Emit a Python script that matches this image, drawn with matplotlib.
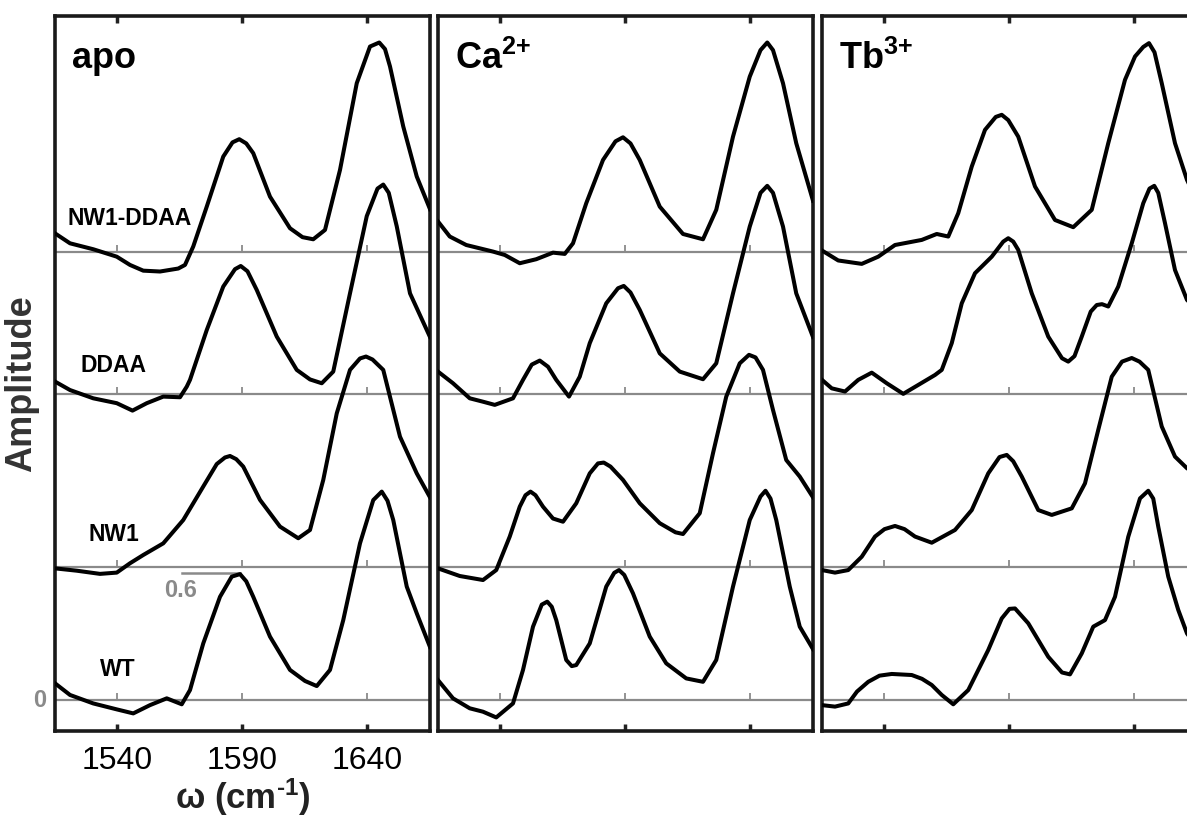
import matplotlib
matplotlib.use("Agg")
import matplotlib.pyplot as plt

plt.rcParams['font.family'] = ['Liberation Sans', 'DejaVu Sans']
plt.rcParams['mathtext.fontset'] = 'custom'
plt.rcParams['mathtext.rm'] = 'Liberation Sans:bold'
plt.rcParams['mathtext.default'] = 'rm'

# vertical offsets of the stacked traces (amplitude units)
offsets = {'WT': 0.0, 'NW1': 0.626, 'DDAA': 1.442, 'NW1-DDAA': 2.115}
trace_names = ['WT', 'NW1', 'DDAA', 'NW1-DDAA']
xticks = [1540, 1590, 1640]

# ---- apo ----
apo_ndd_x = [1515, 1521, 1530.3, 1539.7, 1545, 1550.3, 1557, 1564.3, 1567, 1570.3, 1575.7, 1582.3, 1586, 1588.7,
             1591.5, 1594.3, 1601, 1609, 1614, 1618.3, 1623, 1629, 1635.7, 1641, 1644.7, 1647, 1649, 1654.3, 1659.7, 1665]
apo_ndd_y = [0.086, 0.039, 0.011, -0.024, -0.063, -0.090, -0.094, -0.080, -0.063, 0.024, 0.212, 0.448, 0.515, 0.530,
             0.51, 0.464, 0.259, 0.110, 0.068, 0.058, 0.102, 0.385, 0.794, 0.967, 0.986, 0.955, 0.873, 0.590, 0.354, 0.20]
apo_ddaa_x = [1515, 1521, 1530.3, 1539.7, 1546, 1551.7, 1558.3, 1565, 1567.7, 1569, 1575.7, 1582.3, 1587, 1589.3,
              1592, 1595.7, 1603.7, 1611.7, 1617, 1621.7, 1626.3, 1633, 1639.7, 1644, 1646.3, 1648.5, 1651.7, 1657, 1665]
apo_ddaa_y = [0.060, 0.020, -0.019, -0.042, -0.077, -0.042, -0.011, -0.014, 0.036, 0.068, 0.303, 0.508, 0.59, 0.605,
              0.58, 0.492, 0.272, 0.115, 0.07, 0.052, 0.107, 0.476, 0.840, 0.97, 0.989, 0.95, 0.792, 0.476, 0.27]
apo_nw1_x = [1515, 1523.7, 1533, 1539.7, 1545, 1550.3, 1558.3, 1566.3, 1574.3, 1579.7, 1583, 1585, 1587.5, 1590.3,
             1597, 1605, 1612.3, 1617, 1622.3, 1627.7, 1633, 1637, 1639.4, 1642, 1646.3, 1653, 1659.7, 1665]
apo_nw1_y = [-0.005, -0.016, -0.031, -0.025, 0.019, 0.058, 0.113, 0.223, 0.381, 0.487, 0.518, 0.525, 0.51, 0.475,
             0.318, 0.192, 0.137, 0.176, 0.412, 0.726, 0.931, 0.985, 0.994, 0.98, 0.931, 0.616, 0.443, 0.33]
apo_wt_x = [1515, 1521, 1530.3, 1539.7, 1546.3, 1553, 1559.7, 1565.7, 1569, 1574.3, 1581, 1585.7, 1589, 1591.5,
            1594.3, 1601, 1609, 1615, 1619.7, 1625, 1630.3, 1637, 1642.3, 1645.7, 1648, 1650.3, 1655.7, 1659.7, 1665]
apo_wt_y = [0.079, 0.024, -0.016, -0.044, -0.063, -0.024, 0.008, -0.020, 0.047, 0.267, 0.487, 0.582, 0.594, 0.56,
            0.487, 0.299, 0.142, 0.09, 0.066, 0.142, 0.377, 0.739, 0.943, 0.983, 0.94, 0.849, 0.535, 0.409, 0.25]

# ---- Ca2+ ----
ca_ndd_x = [1515, 1519.7, 1526.3, 1537, 1541.7, 1547.7, 1554.3, 1561, 1565.7, 1569, 1574.3, 1581, 1586, 1589,
            1592, 1595.7, 1603.7, 1613, 1621, 1626.3, 1633, 1639.7, 1644, 1646.7, 1649, 1653, 1658.3, 1665]
ca_ndd_y = [0.142, 0.071, 0.031, 0.0, -0.016, -0.055, -0.036, -0.005, -0.011, 0.039, 0.228, 0.432, 0.52, 0.539,
            0.51, 0.432, 0.212, 0.083, 0.058, 0.197, 0.542, 0.825, 0.95, 0.986, 0.95, 0.794, 0.511, 0.24]
ca_ddaa_x = [1515, 1521, 1527.7, 1533, 1537.7, 1545, 1549, 1552.5, 1555.7, 1559, 1562.3, 1567.4, 1571.7, 1575.7,
             1582.3, 1587, 1589.3, 1592, 1595.7, 1603.7, 1611.7, 1621, 1626.3, 1633, 1639.7, 1644, 1646.7, 1649,
             1653, 1658.3, 1665]
ca_ddaa_y = [0.107, 0.052, -0.019, -0.035, -0.050, -0.019, 0.068, 0.14, 0.159, 0.13, 0.068, -0.011, 0.083, 0.241,
             0.429, 0.50, 0.511, 0.48, 0.398, 0.193, 0.107, 0.071, 0.146, 0.476, 0.791, 0.95, 0.983, 0.95,
             0.791, 0.476, 0.27]
ca_nw1_x = [1515, 1523.7, 1533, 1538.3, 1543.7, 1547.7, 1550, 1552, 1554, 1557, 1561, 1565, 1570.3, 1575.7,
            1579, 1581.3, 1584, 1589, 1595.7, 1603.7, 1610, 1613, 1619.7, 1625, 1630.3, 1635.7, 1639.4, 1642,
            1645, 1649, 1654.3, 1659.7, 1665]
ca_nw1_y = [-0.005, -0.041, -0.060, -0.013, 0.145, 0.286, 0.34, 0.357, 0.34, 0.286, 0.23, 0.215, 0.302, 0.443,
            0.49, 0.494, 0.475, 0.412, 0.302, 0.208, 0.165, 0.157, 0.255, 0.538, 0.805, 0.962, 1.002, 0.99,
            0.931, 0.742, 0.506, 0.428, 0.33]
ca_wt_x = [1515, 1521, 1527.7, 1533, 1538.3, 1545, 1549, 1553, 1556.5, 1558.7, 1560.5, 1562.3, 1566.3, 1568.5,
           1570.3, 1575.7, 1582.3, 1585.5, 1587.4, 1589.5, 1593, 1599.7, 1606.3, 1614.3, 1621, 1626.3, 1633,
           1639.7, 1644, 1646, 1648, 1650.3, 1655.7, 1659.7, 1665]
ca_wt_y = [0.094, 0.008, -0.039, -0.055, -0.082, -0.016, 0.142, 0.346, 0.45, 0.464, 0.44, 0.377, 0.189, 0.16,
           0.165, 0.267, 0.535, 0.60, 0.613, 0.59, 0.503, 0.299, 0.173, 0.102, 0.086, 0.189, 0.535,
           0.849, 0.96, 0.987, 0.95, 0.849, 0.535, 0.346, 0.24]

# ---- Tb3+ ----
tb_ndd_x = [1515, 1521.5, 1530.9, 1537.5, 1544.2, 1554.9, 1560.9, 1565.5, 1569.5, 1574.9, 1580.2, 1584.5, 1586.9,
            1589.5, 1593.5, 1600.2, 1608.2, 1615.5, 1622.9, 1629.5, 1636.2, 1640.2, 1643.5, 1645.8, 1648, 1650.9,
            1656.2, 1661, 1665]
tb_ndd_y = [0.005, -0.042, -0.058, -0.024, 0.031, 0.055, 0.083, 0.071, 0.181, 0.401, 0.574, 0.635, 0.645,
            0.62, 0.542, 0.307, 0.149, 0.115, 0.197, 0.511, 0.810, 0.920, 0.965, 0.983, 0.94, 0.794,
            0.511, 0.338, 0.24]
tb_ddaa_x = [1515, 1518.9, 1524.2, 1529.5, 1534.9, 1540.9, 1547.5, 1553.5, 1560.2, 1562.9, 1566.9, 1570.9, 1576.2,
             1582.9, 1587.5, 1589.5, 1591.5, 1593.5, 1598.9, 1605.5, 1611, 1613.5, 1616, 1618.9, 1622.5, 1624.9,
             1627, 1629.5, 1633.5, 1638.9, 1643.5, 1646, 1647.9, 1649.5, 1652.2, 1656.2, 1661, 1665]
tb_ddaa_y = [0.068, 0.028, 0.013, 0.068, 0.102, 0.052, 0.002, 0.044, 0.091, 0.115, 0.241, 0.429, 0.571,
             0.649, 0.72, 0.736, 0.72, 0.681, 0.476, 0.272, 0.17, 0.154, 0.18, 0.272, 0.39, 0.421,
             0.425, 0.414, 0.508, 0.712, 0.901, 0.97, 0.983, 0.95, 0.807, 0.586, 0.445, 0.40]
tb_nw1_x = [1515, 1520.2, 1525.5, 1530.9, 1536.2, 1540, 1544.2, 1548, 1552.2, 1558.9, 1568.2, 1574.9, 1581.5,
            1586, 1588.9, 1591.5, 1594.9, 1601.5, 1606.9, 1614.9, 1620.2, 1625.5, 1630.9, 1635, 1638.9, 1642,
            1645.5, 1650.9, 1656.2, 1661, 1665]
tb_nw1_y = [-0.013, -0.025, -0.013, 0.050, 0.145, 0.18, 0.195, 0.18, 0.145, 0.116, 0.176, 0.270, 0.443,
            0.52, 0.530, 0.50, 0.428, 0.270, 0.247, 0.278, 0.396, 0.648, 0.899, 0.97, 0.987, 0.97,
            0.931, 0.664, 0.522, 0.467, 0.44]
tb_wt_x = [1515, 1520.2, 1525.5, 1529, 1533.5, 1538, 1542.9, 1550.9, 1555, 1558.9, 1562.9, 1567.5, 1573.5,
           1581.5, 1586.9, 1590, 1592.2, 1597.5, 1605.5, 1611, 1614.2, 1618.9, 1623.5, 1628.2, 1632.2,
           1637.5, 1642.2, 1645.5, 1647.5, 1649.5, 1653.5, 1657.5, 1661, 1665]
tb_wt_y = [-0.024, -0.031, -0.016, 0.04, 0.086, 0.115, 0.123, 0.118, 0.10, 0.071, 0.024, -0.020, 0.047,
           0.236, 0.385, 0.43, 0.432, 0.362, 0.204, 0.13, 0.121, 0.220, 0.346, 0.377, 0.487,
           0.770, 0.951, 0.987, 0.95, 0.818, 0.582, 0.425, 0.314, 0.25]

panels = [
    ('apo', {'WT': (apo_wt_x, apo_wt_y), 'NW1': (apo_nw1_x, apo_nw1_y),
             'DDAA': (apo_ddaa_x, apo_ddaa_y), 'NW1-DDAA': (apo_ndd_x, apo_ndd_y)}),
    (r'Ca$^{\text{2+}}$', {'WT': (ca_wt_x, ca_wt_y), 'NW1': (ca_nw1_x, ca_nw1_y),
                           'DDAA': (ca_ddaa_x, ca_ddaa_y), 'NW1-DDAA': (ca_ndd_x, ca_ndd_y)}),
    (r'Tb$^{\text{3+}}$', {'WT': (tb_wt_x, tb_wt_y), 'NW1': (tb_nw1_x, tb_nw1_y),
                           'DDAA': (tb_ddaa_x, tb_ddaa_y), 'NW1-DDAA': (tb_ndd_x, tb_ndd_y)}),
]

label_pos = {'NW1-DDAA': (1545, 2.27), 'DDAA': (1538.5, 1.58), 'NW1': (1538.5, 0.78), 'WT': (1540, 0.145)}

fig = plt.figure(figsize=(11.87, 8.25), dpi=100)
lefts = [55, 438, 822]
gray = '#8a8a8a'

for i, (title, curves) in enumerate(panels):
    ax = fig.add_axes([lefts[i] / 1187, 1 - 731 / 825, 375 / 1187, 715 / 825])
    for name in trace_names:
        off = offsets[name]
        ax.axhline(off, color=gray, lw=1.6, zorder=1)
        ax.plot(xticks, [off] * len(xticks), ls='none', marker=2, ms=5, mew=1.3, color=gray, zorder=1)
        xs, ys = curves[name]
        ax.plot(xs, [v + off for v in ys], color='black', lw=2.9, solid_joinstyle='round', zorder=3)
    ax.set_xlim(1515, 1665)
    ax.set_ylim(-0.146, 3.226)
    ax.set_yticks([])
    ax.set_xticks(xticks)
    ax.tick_params(axis='x', direction='in', length=5, width=2.5, top=True, color='#222222',
                   labelsize=23, pad=11)
    for sp in ax.spines.values():
        sp.set_linewidth(2.6)
        sp.set_color('#1a1a1a')
    ax.text(0.045, 0.965, title, transform=ax.transAxes, fontsize=26, fontweight='bold',
            va='top', ha='left')
    if i == 0:
        for name in trace_names:
            lx, ly = label_pos[name]
            ax.text(lx, ly, name, fontsize=16.5, fontweight='bold', ha='center', va='center')
        ax.set_xlabel(r'ω (cm$^{\text{-1}}$)', fontsize=25, fontweight='bold', color='#222222', labelpad=0)
        ax.plot([1566, 1589], [0.6, 0.6], color=gray, lw=1.8, clip_on=False)
        ax.text(1572, 0.515, '0.6', color=gray, fontsize=17, fontweight='bold', ha='right', va='center')
        ax.text(-0.022, 0.0, '0', color=gray, fontsize=17, fontweight='bold', ha='right', va='center',
                transform=ax.get_yaxis_transform())
    else:
        ax.set_xticklabels([])

fig.text(0.018, 0.535, 'Amplitude', rotation=90, fontsize=26, fontweight='bold', color='#333333',
         ha='center', va='center')

fig.savefig('out.png', dpi=100)
